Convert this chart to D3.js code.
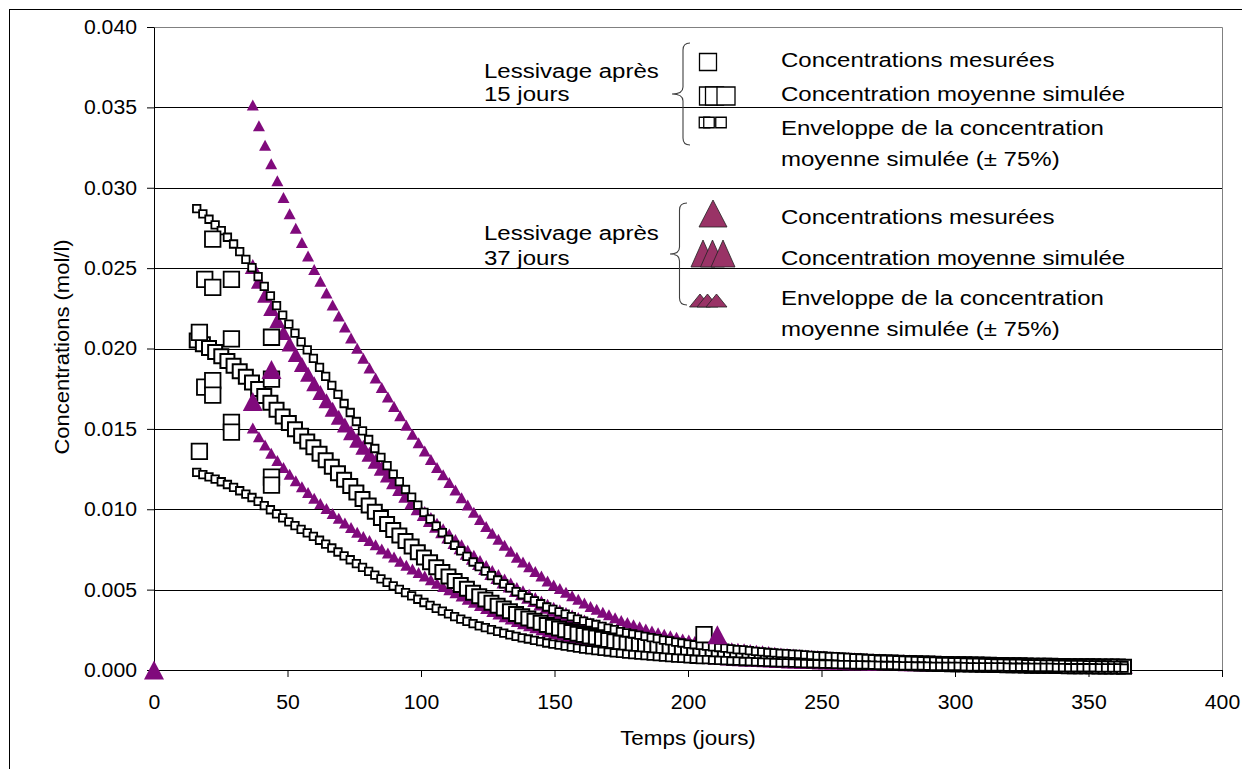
<!DOCTYPE html>
<html><head><meta charset="utf-8">
<script src="https://cdn.jsdelivr.net/npm/d3@7"></script>
<style>
body{margin:0;background:#fff}
svg{display:block}
text{font-family:"Liberation Sans",Arial,sans-serif;fill:#000}
</style>
</head><body>
<svg id="chart" width="1242" height="769"></svg>
<script>
// ---------- DATA (concentrations in mol/l, time in days) ----------
const xTicks = [0, 50, 100, 150, 200, 250, 300, 350, 400];
const yTicks = [0, 0.005, 0.010, 0.015, 0.020, 0.025, 0.030, 0.035, 0.040];

// Leaching after 15 days : simulated time grid
const days15 = [16,18.3,20.6,22.9,25.2,27.5,29.8,32.1,34.4,36.7,39,41.3,43.6,45.9,48.2,50.5,52.8,55.1,57.4,59.7,62,64.3,66.6,68.9,71.2,73.5,75.8,78.1,80.4,82.7,85,87.3,89.6,91.9,94.2,96.5,98.8,101.1,103.4,105.7,108,110.3,112.6,114.9,117.2,119.5,121.8,124.1,126.4,128.7,131,133.3,135.6,137.9,140.2,142.5,144.8,147.1,149.4,151.7,154,156.3,158.6,160.9,163.2,165.5,167.8,170.1,172.4,174.7,177,179.3,181.6,183.9,186.2,188.5,190.8,193.1,195.4,197.7,200,202.3,204.6,206.9,209.2,211.5,213.8,216.1,218.4,220.7,223,225.3,227.6,229.9,232.2,234.5,236.8,239.1,241.4,243.7,246,248.3,250.6,252.9,255.2,257.5,259.8,262.1,264.4,266.7,269,271.3,273.6,275.9,278.2,280.5,282.8,285.1,287.4,289.7,292,294.3,296.6,298.9,301.2,303.5,305.8,308.1,310.4,312.7,315,317.3,319.6,321.9,324.2,326.5,328.8,331.1,333.4,335.7,338,340.3,342.6,344.9,347.2,349.5,351.8,354.1,356.4,358.7,361,363.3];
const mean15 = [20.50e-3,20.27e-3,20.03e-3,19.78e-3,19.52e-3,19.23e-3,18.93e-3,18.59e-3,18.24e-3,17.88e-3,17.48e-3,17.05e-3,16.62e-3,16.19e-3,15.77e-3,15.37e-3,14.97e-3,14.58e-3,14.22e-3,13.85e-3,13.45e-3,13.05e-3,12.65e-3,12.24e-3,11.84e-3,11.44e-3,11.04e-3,10.63e-3,10.24e-3,9.84e-3,9.45e-3,9.08e-3,8.71e-3,8.37e-3,8.02e-3,7.68e-3,7.33e-3,7.00e-3,6.70e-3,6.39e-3,6.10e-3,5.81e-3,5.54e-3,5.29e-3,5.05e-3,4.80e-3,4.59e-3,4.39e-3,4.19e-3,4.00e-3,3.83e-3,3.65e-3,3.48e-3,3.34e-3,3.21e-3,3.07e-3,2.94e-3,2.80e-3,2.69e-3,2.58e-3,2.48e-3,2.37e-3,2.26e-3,2.17e-3,2.09e-3,2.02e-3,1.94e-3,1.86e-3,1.79e-3,1.71e-3,1.65e-3,1.60e-3,1.55e-3,1.49e-3,1.44e-3,1.39e-3,1.33e-3,1.29e-3,1.24e-3,1.20e-3,1.15e-3,1.12e-3,1.09e-3,1.06e-3,1.03e-3,1.00e-3,0.97e-3,0.94e-3,0.91e-3,0.89e-3,0.86e-3,0.83e-3,0.81e-3,0.78e-3,0.76e-3,0.74e-3,0.73e-3,0.71e-3,0.69e-3,0.67e-3,0.65e-3,0.63e-3,0.62e-3,0.60e-3,0.59e-3,0.57e-3,0.56e-3,0.54e-3,0.53e-3,0.51e-3,0.50e-3,0.48e-3,0.47e-3,0.46e-3,0.45e-3,0.44e-3,0.43e-3,0.42e-3,0.41e-3,0.40e-3,0.39e-3,0.38e-3,0.37e-3,0.36e-3,0.36e-3,0.35e-3,0.34e-3,0.34e-3,0.33e-3,0.32e-3,0.31e-3,0.31e-3,0.30e-3,0.29e-3,0.29e-3,0.28e-3,0.27e-3,0.27e-3,0.26e-3,0.26e-3,0.25e-3,0.25e-3,0.24e-3,0.24e-3,0.24e-3,0.23e-3,0.23e-3,0.22e-3,0.22e-3,0.21e-3,0.21e-3,0.20e-3];
const upper15 = [28.70e-3,28.38e-3,28.04e-3,27.69e-3,27.33e-3,26.92e-3,26.50e-3,26.03e-3,25.54e-3,25.03e-3,24.47e-3,23.87e-3,23.27e-3,22.67e-3,22.08e-3,21.52e-3,20.96e-3,20.41e-3,19.91e-3,19.39e-3,18.83e-3,18.27e-3,17.71e-3,17.14e-3,16.58e-3,16.02e-3,15.46e-3,14.88e-3,14.34e-3,13.78e-3,13.23e-3,12.71e-3,12.19e-3,11.72e-3,11.23e-3,10.75e-3,10.26e-3,9.80e-3,9.38e-3,8.95e-3,8.54e-3,8.13e-3,7.76e-3,7.41e-3,7.07e-3,6.72e-3,6.43e-3,6.15e-3,5.87e-3,5.60e-3,5.36e-3,5.11e-3,4.87e-3,4.68e-3,4.49e-3,4.30e-3,4.12e-3,3.92e-3,3.77e-3,3.61e-3,3.47e-3,3.32e-3,3.16e-3,3.04e-3,2.93e-3,2.83e-3,2.72e-3,2.60e-3,2.51e-3,2.39e-3,2.31e-3,2.24e-3,2.17e-3,2.09e-3,2.02e-3,1.95e-3,1.86e-3,1.81e-3,1.74e-3,1.68e-3,1.61e-3,1.57e-3,1.53e-3,1.48e-3,1.44e-3,1.40e-3,1.36e-3,1.32e-3,1.27e-3,1.25e-3,1.20e-3,1.16e-3,1.13e-3,1.09e-3,1.06e-3,1.04e-3,1.02e-3,0.99e-3,0.97e-3,0.94e-3,0.91e-3,0.88e-3,0.87e-3,0.84e-3,0.83e-3,0.80e-3,0.78e-3,0.76e-3,0.74e-3,0.71e-3,0.70e-3,0.67e-3,0.66e-3,0.64e-3,0.63e-3,0.62e-3,0.60e-3,0.59e-3,0.57e-3,0.56e-3,0.55e-3,0.53e-3,0.52e-3,0.50e-3,0.50e-3,0.49e-3,0.48e-3,0.48e-3,0.46e-3,0.45e-3,0.43e-3,0.43e-3,0.42e-3,0.41e-3,0.41e-3,0.39e-3,0.38e-3,0.38e-3,0.36e-3,0.36e-3,0.35e-3,0.35e-3,0.34e-3,0.34e-3,0.34e-3,0.32e-3,0.32e-3,0.31e-3,0.31e-3,0.29e-3,0.29e-3,0.28e-3];
const lower15 = [12.30e-3,12.16e-3,12.02e-3,11.87e-3,11.71e-3,11.54e-3,11.36e-3,11.15e-3,10.94e-3,10.73e-3,10.49e-3,10.23e-3,9.97e-3,9.71e-3,9.46e-3,9.22e-3,8.98e-3,8.75e-3,8.53e-3,8.31e-3,8.07e-3,7.83e-3,7.59e-3,7.34e-3,7.10e-3,6.86e-3,6.62e-3,6.38e-3,6.14e-3,5.90e-3,5.67e-3,5.45e-3,5.23e-3,5.02e-3,4.81e-3,4.61e-3,4.40e-3,4.20e-3,4.02e-3,3.83e-3,3.66e-3,3.49e-3,3.32e-3,3.17e-3,3.03e-3,2.88e-3,2.75e-3,2.63e-3,2.51e-3,2.40e-3,2.30e-3,2.19e-3,2.09e-3,2.00e-3,1.93e-3,1.84e-3,1.76e-3,1.68e-3,1.61e-3,1.55e-3,1.49e-3,1.42e-3,1.36e-3,1.30e-3,1.25e-3,1.21e-3,1.16e-3,1.12e-3,1.07e-3,1.03e-3,0.99e-3,0.96e-3,0.93e-3,0.89e-3,0.86e-3,0.83e-3,0.80e-3,0.77e-3,0.74e-3,0.72e-3,0.69e-3,0.67e-3,0.65e-3,0.64e-3,0.62e-3,0.60e-3,0.58e-3,0.56e-3,0.55e-3,0.53e-3,0.52e-3,0.50e-3,0.49e-3,0.47e-3,0.46e-3,0.44e-3,0.44e-3,0.43e-3,0.41e-3,0.40e-3,0.39e-3,0.38e-3,0.37e-3,0.36e-3,0.35e-3,0.34e-3,0.34e-3,0.32e-3,0.32e-3,0.31e-3,0.30e-3,0.29e-3,0.28e-3,0.28e-3,0.27e-3,0.26e-3,0.26e-3,0.25e-3,0.25e-3,0.24e-3,0.23e-3,0.23e-3,0.22e-3,0.22e-3,0.22e-3,0.21e-3,0.20e-3,0.20e-3,0.20e-3,0.19e-3,0.19e-3,0.19e-3,0.18e-3,0.17e-3,0.17e-3,0.17e-3,0.16e-3,0.16e-3,0.16e-3,0.16e-3,0.15e-3,0.15e-3,0.14e-3,0.14e-3,0.14e-3,0.14e-3,0.14e-3,0.13e-3,0.13e-3,0.13e-3,0.13e-3,0.12e-3];

// Leaching after 37 days : simulated time grid
const days37 = [37,39.3,41.6,43.9,46.2,48.5,50.8,53.1,55.4,57.7,60,62.3,64.6,66.9,69.2,71.5,73.8,76.1,78.4,80.7,83,85.3,87.6,89.9,92.2,94.5,96.8,99.1,101.4,103.7,106,108.3,110.6,112.9,115.2,117.5,119.8,122.1,124.4,126.7,129,131.3,133.6,135.9,138.2,140.5,142.8,145.1,147.4,149.7,152,154.3,156.6,158.9,161.2,163.5,165.8,168.1,170.4,172.7,175,177.3,179.6,181.9,184.2,186.5,188.8,191.1,193.4,195.7,198,200.3,202.6,204.9,207.2,209.5,211.8,214.1,216.4,218.7,221,223.3,225.6,227.9,230.2,232.5,234.8,237.1,239.4,241.7,244,246.3,248.6,250.9,253.2,255.5,257.8,260.1,262.4,264.7,267,269.3,271.6,273.9,276.2,278.5,280.8,283.1,285.4,287.7,290,292.3,294.6,296.9,299.2,301.5,303.8,306.1,308.4,310.7,313,315.3,317.6,319.9,322.2,324.5,326.8,329.1,331.4,333.7,336,338.3,340.6,342.9,345.2,347.5,349.8,352.1,354.4,356.7,359,361.3,363.6];
const mean37 = [25.10e-3,24.18e-3,23.32e-3,22.49e-3,21.74e-3,20.99e-3,20.28e-3,19.63e-3,19.00e-3,18.40e-3,17.80e-3,17.27e-3,16.75e-3,16.22e-3,15.73e-3,15.24e-3,14.76e-3,14.29e-3,13.85e-3,13.42e-3,12.98e-3,12.55e-3,12.13e-3,11.71e-3,11.29e-3,10.87e-3,10.47e-3,10.10e-3,9.73e-3,9.36e-3,9.00e-3,8.67e-3,8.33e-3,8.00e-3,7.66e-3,7.33e-3,7.01e-3,6.69e-3,6.37e-3,6.07e-3,5.81e-3,5.54e-3,5.28e-3,5.01e-3,4.80e-3,4.59e-3,4.38e-3,4.17e-3,3.96e-3,3.78e-3,3.62e-3,3.46e-3,3.30e-3,3.14e-3,2.98e-3,2.82e-3,2.70e-3,2.57e-3,2.45e-3,2.32e-3,2.20e-3,2.11e-3,2.01e-3,1.92e-3,1.82e-3,1.73e-3,1.66e-3,1.59e-3,1.52e-3,1.45e-3,1.38e-3,1.33e-3,1.28e-3,1.23e-3,1.19e-3,1.14e-3,1.09e-3,1.04e-3,0.99e-3,0.97e-3,0.94e-3,0.91e-3,0.88e-3,0.85e-3,0.82e-3,0.79e-3,0.76e-3,0.73e-3,0.71e-3,0.69e-3,0.67e-3,0.66e-3,0.64e-3,0.62e-3,0.60e-3,0.58e-3,0.56e-3,0.55e-3,0.54e-3,0.53e-3,0.52e-3,0.50e-3,0.49e-3,0.48e-3,0.47e-3,0.46e-3,0.45e-3,0.44e-3,0.43e-3,0.42e-3,0.41e-3,0.41e-3,0.40e-3,0.39e-3,0.38e-3,0.38e-3,0.37e-3,0.36e-3,0.36e-3,0.35e-3,0.34e-3,0.34e-3,0.33e-3,0.33e-3,0.32e-3,0.31e-3,0.31e-3,0.30e-3,0.30e-3,0.29e-3,0.29e-3,0.29e-3,0.28e-3,0.28e-3,0.27e-3,0.27e-3,0.27e-3,0.26e-3,0.26e-3,0.25e-3,0.25e-3,0.25e-3,0.24e-3];
const upper37 = [35.14e-3,33.85e-3,32.65e-3,31.49e-3,30.44e-3,29.39e-3,28.39e-3,27.48e-3,26.60e-3,25.76e-3,24.92e-3,24.18e-3,23.45e-3,22.71e-3,22.02e-3,21.34e-3,20.66e-3,20.01e-3,19.39e-3,18.79e-3,18.17e-3,17.57e-3,16.98e-3,16.39e-3,15.81e-3,15.22e-3,14.66e-3,14.14e-3,13.62e-3,13.10e-3,12.60e-3,12.14e-3,11.66e-3,11.20e-3,10.72e-3,10.26e-3,9.81e-3,9.37e-3,8.92e-3,8.50e-3,8.13e-3,7.76e-3,7.39e-3,7.01e-3,6.72e-3,6.43e-3,6.13e-3,5.84e-3,5.54e-3,5.29e-3,5.07e-3,4.84e-3,4.62e-3,4.40e-3,4.17e-3,3.95e-3,3.78e-3,3.60e-3,3.43e-3,3.25e-3,3.08e-3,2.95e-3,2.81e-3,2.69e-3,2.55e-3,2.42e-3,2.32e-3,2.23e-3,2.13e-3,2.03e-3,1.93e-3,1.86e-3,1.79e-3,1.72e-3,1.67e-3,1.60e-3,1.53e-3,1.46e-3,1.39e-3,1.36e-3,1.32e-3,1.27e-3,1.23e-3,1.19e-3,1.15e-3,1.11e-3,1.06e-3,1.02e-3,0.99e-3,0.97e-3,0.94e-3,0.92e-3,0.90e-3,0.87e-3,0.84e-3,0.81e-3,0.78e-3,0.77e-3,0.76e-3,0.74e-3,0.73e-3,0.70e-3,0.69e-3,0.67e-3,0.66e-3,0.64e-3,0.63e-3,0.62e-3,0.60e-3,0.59e-3,0.57e-3,0.57e-3,0.56e-3,0.55e-3,0.53e-3,0.53e-3,0.52e-3,0.50e-3,0.50e-3,0.49e-3,0.48e-3,0.48e-3,0.46e-3,0.46e-3,0.45e-3,0.43e-3,0.43e-3,0.42e-3,0.42e-3,0.41e-3,0.41e-3,0.41e-3,0.39e-3,0.39e-3,0.38e-3,0.38e-3,0.38e-3,0.36e-3,0.36e-3,0.35e-3,0.35e-3,0.35e-3,0.34e-3];
const lower37 = [15.06e-3,14.51e-3,13.99e-3,13.49e-3,13.04e-3,12.59e-3,12.17e-3,11.78e-3,11.40e-3,11.04e-3,10.68e-3,10.36e-3,10.05e-3,9.73e-3,9.44e-3,9.14e-3,8.86e-3,8.57e-3,8.31e-3,8.05e-3,7.79e-3,7.53e-3,7.28e-3,7.03e-3,6.77e-3,6.52e-3,6.28e-3,6.06e-3,5.84e-3,5.62e-3,5.40e-3,5.20e-3,5.00e-3,4.80e-3,4.60e-3,4.40e-3,4.21e-3,4.01e-3,3.82e-3,3.64e-3,3.49e-3,3.32e-3,3.17e-3,3.01e-3,2.88e-3,2.75e-3,2.63e-3,2.50e-3,2.38e-3,2.27e-3,2.17e-3,2.08e-3,1.98e-3,1.88e-3,1.79e-3,1.69e-3,1.62e-3,1.54e-3,1.47e-3,1.39e-3,1.32e-3,1.27e-3,1.21e-3,1.15e-3,1.09e-3,1.04e-3,1.00e-3,0.95e-3,0.91e-3,0.87e-3,0.83e-3,0.80e-3,0.77e-3,0.74e-3,0.71e-3,0.68e-3,0.65e-3,0.62e-3,0.59e-3,0.58e-3,0.56e-3,0.55e-3,0.53e-3,0.51e-3,0.49e-3,0.47e-3,0.46e-3,0.44e-3,0.43e-3,0.41e-3,0.40e-3,0.40e-3,0.38e-3,0.37e-3,0.36e-3,0.35e-3,0.34e-3,0.33e-3,0.32e-3,0.32e-3,0.31e-3,0.30e-3,0.29e-3,0.29e-3,0.28e-3,0.28e-3,0.27e-3,0.26e-3,0.26e-3,0.25e-3,0.25e-3,0.25e-3,0.24e-3,0.23e-3,0.23e-3,0.23e-3,0.22e-3,0.22e-3,0.22e-3,0.21e-3,0.20e-3,0.20e-3,0.20e-3,0.20e-3,0.19e-3,0.19e-3,0.19e-3,0.18e-3,0.18e-3,0.17e-3,0.17e-3,0.17e-3,0.17e-3,0.17e-3,0.16e-3,0.16e-3,0.16e-3,0.16e-3,0.16e-3,0.15e-3,0.15e-3,0.15e-3,0.14e-3];

// Measured concentrations
const measDays15 = [17, 17, 19, 22, 22, 29, 29, 19, 22, 22, 29, 29, 44, 44, 44, 44, 206];
const measVals15 = [21.0e-3, 13.6e-3, 24.3e-3, 26.8e-3, 23.8e-3, 24.3e-3, 20.6e-3, 17.6e-3, 18.0e-3, 17.1e-3, 15.4e-3, 14.8e-3, 20.7e-3, 18.1e-3, 12.0e-3, 11.5e-3, 2.2e-3];
const measDays37 = [0, 37, 44, 211];
const measVals37 = [0, 16.7e-3, 18.7e-3, 2.2e-3];

const groupTitles = [["Lessivage après", "15 jours"], ["Lessivage après", "37 jours"]];
const legendLabels = [["Concentrations mesurées", "Concentration moyenne simulée", "Enveloppe de la concentration", "moyenne simulée (± 75%)"],
                      ["Concentrations mesurées", "Concentration moyenne simulée", "Enveloppe de la concentration", "moyenne simulée (± 75%)"]];

// ---------- DRAWING ----------
const svg = d3.select("#chart");
const x = d3.scaleLinear().domain([0, 400]).range([154, 1222]);
const y = d3.scaleLinear().domain([0, 0.04]).range([670, 27]);
const PURPLE = "#800a7c", LEG_PURPLE = "#993366";

function stretch(sel, f) {
  sel.each(function () {
    const L = this.getComputedTextLength();
    this.setAttribute("textLength", L * f);
    this.setAttribute("lengthAdjust", "spacingAndGlyphs");
  });
}
const sq = s => `M${-s/2},${-s/2}h${s}v${s}h${-s}Z`;
const tri = (w, h) => `M0,${-h/2}L${w/2},${h/2}L${-w/2},${h/2}Z`;

// outer chart border (extends beyond the frame)
svg.append("rect").attr("x", 9.5).attr("y", 9.5).attr("width", 1300).attr("height", 800)
  .attr("fill", "none").attr("stroke", "#000").attr("stroke-width", 1);

// plot-area frame (top & right in gray)
svg.append("path").attr("d", `M${x(0)},${y(0.04)+0.5}H${x(400)+0.5}V${y(0)}`)
  .attr("fill", "none").attr("stroke", "#808080").attr("stroke-width", 1);

// gridlines
svg.append("g").selectAll("line").data(yTicks.filter(v => v > 0 && v < 0.04)).join("line")
  .attr("x1", x(0)).attr("x2", x(400))
  .attr("y1", d => Math.round(y(d)) + 0.5).attr("y2", d => Math.round(y(d)) + 0.5)
  .attr("stroke", "#000").attr("stroke-width", 1);

// axes
const gx = svg.append("g").attr("transform", `translate(0,${y(0)})`)
  .call(d3.axisBottom(x).tickValues(xTicks).tickSize(7).tickSizeOuter(0).tickFormat(d3.format("d")));
gx.select(".domain").attr("stroke", "#000");
gx.selectAll(".tick line").attr("stroke", "#000");
gx.selectAll("text").attr("y", 39).attr("dy", null).style("font-size", "20px").attr("font-family", null);
stretch(gx.selectAll("text"), 1.06);

const gy = svg.append("g").attr("transform", `translate(${x(0)},0)`)
  .call(d3.axisLeft(y).tickValues(yTicks).tickSize(7).tickSizeOuter(0).tickFormat(d3.format(".3f")));
gy.select(".domain").attr("stroke", "#000");
gy.selectAll(".tick line").attr("stroke", "#000");
gy.selectAll("text").attr("x", -17).style("font-size", "20px").attr("font-family", null);
stretch(gy.selectAll("text"), 1.06);
svg.selectAll(".tick text").attr("fill", "#000");

// axis titles
const xt = svg.append("text").attr("x", 688).attr("y", 745).attr("text-anchor", "middle")
  .style("font-size", "20px").text("Temps (jours)");
stretch(xt, 1.12);
const yt = svg.append("text").attr("transform", "translate(69,347) rotate(-90)").attr("text-anchor", "middle")
  .style("font-size", "20px").text("Concentrations (mol/l)");
stretch(yt, 1.1);

// markers
const plot = svg.append("g");
function drawSeries(days, vals, d, fill, stroke, sw) {
  plot.append("g").selectAll("path").data(d3.zip(days, vals)).join("path")
    .attr("d", d)
    .attr("transform", p => `translate(${x(p[0])},${y(p[1])})`)
    .attr("fill", fill).attr("stroke", stroke).attr("stroke-width", sw);
}
drawSeries(days37, mean37, tri(16, 15), PURPLE, "none", 0);
drawSeries(days37, upper37, tri(12, 11), PURPLE, "none", 0);
drawSeries(days37, lower37, tri(12, 11), PURPLE, "none", 0);
drawSeries(days15, mean15, sq(14), "#fff", "#000", 2);
drawSeries(days15, upper15, sq(7.5), "#fff", "#000", 1.8);
drawSeries(days15, lower15, sq(7.5), "#fff", "#000", 1.8);
drawSeries(measDays15, measVals15, sq(15.5), "#fff", "#000", 1.8);
drawSeries(measDays37, measVals37, tri(20, 19), PURPLE, "none", 0);

// legend
const leg = svg.append("g");
const braces = [
  {sx: 683, top: 43, bot: 145, tipX: 672, hook: 690},
  {sx: 679.5, top: 203, bot: 305, tipX: 670, hook: 687}
];
braces.forEach(b => {
  const m = (b.top + b.bot) / 2;
  leg.append("path")
    .attr("d", `M${b.hook},${b.top} Q${b.sx},${b.top} ${b.sx},${b.top+7} L${b.sx},${m-7} Q${b.sx},${m} ${b.tipX},${m} Q${b.sx},${m} ${b.sx},${m+7} L${b.sx},${b.bot-7} Q${b.sx},${b.bot} ${b.hook},${b.bot}`)
    .attr("fill", "none").attr("stroke", "#404040").attr("stroke-width", 1.1);
});
const titleY = [[78, 100.5], [240, 265]];
groupTitles.forEach((g, i) => {
  g.forEach((t, j) => {
    const el = leg.append("text").attr("x", 484).attr("y", titleY[i][j]).style("font-size", "20px").text(t);
    stretch(el, 1.2);
  });
});
const labelY = [[66.5, 100.5, 134.5, 165.5], [224, 264.5, 305, 336]];
legendLabels.forEach((g, i) => {
  g.forEach((t, j) => {
    const el = leg.append("text").attr("x", 781).attr("y", labelY[i][j]).style("font-size", "20px").text(t);
    stretch(el, 1.2);
  });
});
// legend keys, 15-day group
leg.append("path").attr("d", sq(17)).attr("transform", "translate(708,62)").attr("fill", "#fff").attr("stroke", "#000").attr("stroke-width", 1.3);
[708.5, 714.5, 726].forEach(cx => leg.append("path").attr("d", sq(18)).attr("transform", `translate(${cx},96)`).attr("fill", "#fff").attr("stroke", "#000").attr("stroke-width", 1.3));
[704.5, 709, 721].forEach(cx => leg.append("path").attr("d", sq(10.5)).attr("transform", `translate(${cx},122.5)`).attr("fill", "#fff").attr("stroke", "#000").attr("stroke-width", 1.3));
// legend keys, 37-day group
leg.append("path").attr("d", tri(28, 27)).attr("transform", "translate(713,213.5)").attr("fill", LEG_PURPLE).attr("stroke", "#222").attr("stroke-width", 0.8);
[703, 712.5, 723].forEach(cx => leg.append("path").attr("d", tri(24, 27)).attr("transform", `translate(${cx},253.5)`).attr("fill", LEG_PURPLE).attr("stroke", "#222").attr("stroke-width", 0.8));
[700, 707.5, 716.5].forEach(cx => leg.append("path").attr("d", tri(21, 13)).attr("transform", `translate(${cx},300.5)`).attr("fill", LEG_PURPLE).attr("stroke", "#222").attr("stroke-width", 0.8));
</script>
</body></html>
